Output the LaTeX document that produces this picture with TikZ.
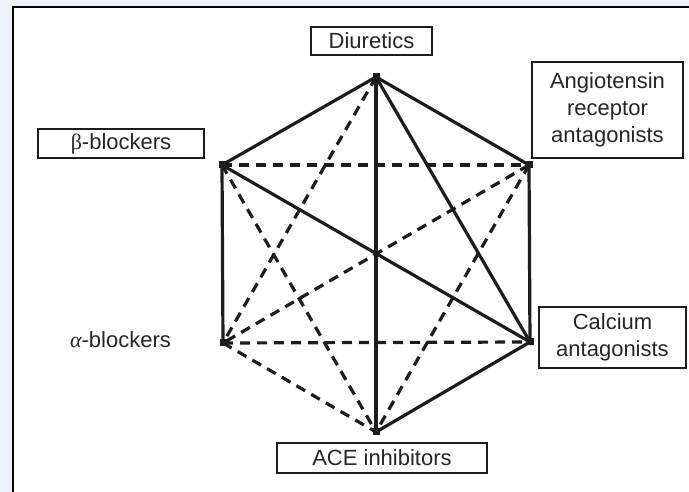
\documentclass[tikz,border=0pt]{standalone}
\usepackage{fontspec}
\setmainfont{Liberation Sans}
\newfontfamily\grkfont{Liberation Serif}
\definecolor{bgblue}{RGB}{238,242,250}
\definecolor{ink}{RGB}{28,28,28}
\definecolor{txt}{RGB}{38,38,38}
\begin{document}
\begin{tikzpicture}[x=1pt,y=1pt,
  lbl/.style={draw=ink, line width=1.1pt, align=center, inner sep=0pt,
              font=\fontsize{22}{27}\selectfont, text=txt},
  plain/.style={align=center, inner sep=0pt, font=\fontsize{22}{27}\selectfont, text=txt},
  sol/.style={line width=3.2pt, draw=ink, line cap=round},
  dsh/.style={line width=3.2pt, draw=ink, dash pattern=on 10pt off 7pt},
  vtx/.style={fill=ink, minimum size=7pt, inner sep=0pt, rectangle}]
\useasboundingbox (0,0) rectangle (689,492);
\begin{scope}
  \clip (0,0) rectangle (689,492);
  \fill[bgblue] (0,0) rectangle (689,492);
  \draw[line width=2.6pt, draw=black, fill=white] (13,-20) rectangle (720,485);
\end{scope}

% hexagon vertices
\coordinate (D) at (376,415);
\coordinate (B) at (222,327);
\coordinate (A) at (529,327);
\coordinate (L) at (223,149);
\coordinate (C) at (530,150);
\coordinate (E) at (376,60);

% labels
\node[lbl, minimum width=121pt, minimum height=28pt] (diu) at (371.5,451) {Diuretics};
\node[lbl, minimum width=166pt, minimum height=29pt] (bet) at (121,348.5) {{\grkfont β}-blockers};
\node[lbl, minimum width=151pt, minimum height=96pt] (ang) at (607.5,382) {Angiotensin\\receptor\\antagonists};
\node[plain] (alp) at (120.5,152) {{\grkfont\itshape α}-blockers};
\node[lbl, minimum width=147pt, minimum height=61pt] (cal) at (612.5,154.5) {Calcium\\antagonists};
\node[lbl, minimum width=210pt, minimum height=30pt] (ace) at (382,34) {ACE inhibitors};

% dashed connections
\draw[dsh] (B) -- (A);
\draw[dsh] (B) -- (E);
\draw[dsh] (D) -- (L);
\draw[dsh] (A) -- (L);
\draw[dsh] (L) -- (C);
\draw[dsh] (L) -- (E);
\draw[dsh] (A) -- (E);

% solid connections
\draw[sol] (D) -- (B);
\draw[sol] (D) -- (A);
\draw[sol] (D) -- (E);
\draw[sol] (D) -- (C);
\draw[sol] (B) -- (L);
\draw[sol] (B) -- (C);
\draw[sol] (A) -- (C);
\draw[sol] (C) -- (E);

% vertex markers
\node[vtx] at (D) {};
\node[vtx] at (B) {};
\node[vtx] at (A) {};
\node[vtx] at (L) {};
\node[vtx] at (C) {};
\node[vtx] at (E) {};
\end{tikzpicture}
\end{document}
